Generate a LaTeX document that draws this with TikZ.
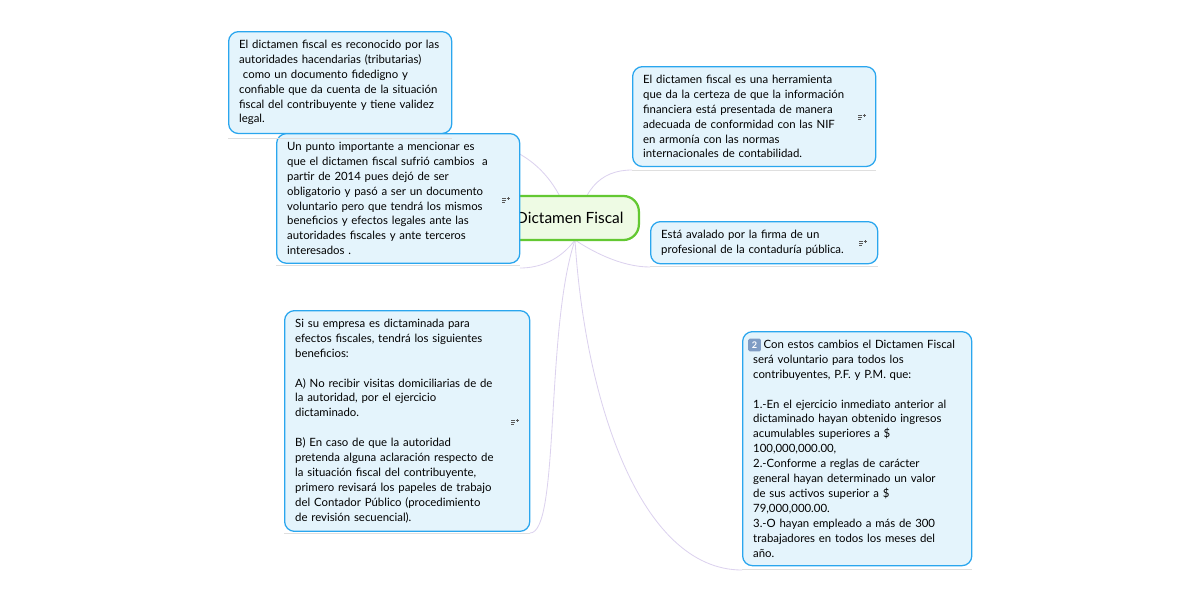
\documentclass[tikz,border=0pt]{standalone}
\usepackage{fontspec}
\setmainfont{Lato}
\usetikzlibrary{positioning}
\definecolor{notefill}{HTML}{E4F4FC}
\definecolor{notedraw}{HTML}{2AA6EE}
\definecolor{topicfill}{HTML}{EEFBE4}
\definecolor{topicdraw}{HTML}{63C832}
\definecolor{linkcol}{HTML}{DCD2EE}
\definecolor{badgecol}{HTML}{7F9CC4}
\newcommand{\noteicon}[1]{%
  \draw[gray!70!black, line width=0.6pt] ($(#1)+(-3,-2)$) -- +(4,0) ($(#1)+(-3,0)$) -- +(4,0) ($(#1)+(-3,2)$) -- +(3,0);
  \draw[gray!70!black, line width=0.5pt] ($(#1)+(3,-3)$) -- +(0,3) ($(#1)+(1.5,-1.5)$) -- +(3,0);}
\usetikzlibrary{calc}
\begin{document}
\begin{tikzpicture}
		[x=0.025cm, y=-0.025cm,
		note/.style ={rectangle, draw=notedraw, fill=notefill, line width=0.9pt, rounded corners=7pt, anchor=north west, align=left, inner xsep=7.5pt, inner ysep=6pt, font=\fontsize{8.1}{10.6}\selectfont},
		topic/.style ={rectangle, draw=topicdraw, fill=topicfill, line width=1.6pt, rounded corners=11pt, minimum height=1.1cm, minimum width=4.6cm, anchor=east, font=\fontsize{11}{12}\selectfont},
		line/.style ={draw=linkcol, line width=0.6pt},
		base/.style ={draw=gray!25, line width=0.5pt},
		]
		\useasboundingbox (0,0) rectangle (1200,600);

		% links
		\coordinate (C) at (575,240);
		\path[line] (C) .. controls (560,170) and (520,140) .. (452,137);
		\path[line] (C) .. controls (560,260) and (540,268) .. (520,268);
		\path[line] (C) .. controls (545,330) and (560,533) .. (530,533);
		\path[line] (C) .. controls (580,190) and (600,170) .. (632,170);
		\path[line] (C) .. controls (590,250) and (620,267) .. (650,267);
		\path[line] (C) .. controls (585,400) and (640,570) .. (742,570);

		\node[topic] (T) at (640,218) {\hspace*{1.15cm}Dictamen Fiscal};

		\node[note, text width=5.05cm] (N1) at (228,31) {El dictamen fiscal es reconocido por las\\autoridades hacendarias (tributarias)\\\ como un documento fidedigno y\\confiable que da cuenta de la situación\\fiscal del contribuyente y tiene validez\\legal.};
		\node[note, text width=5.55cm] (N2) at (276,133) {Un punto importante a mencionar es\\que el dictamen fiscal sufrió cambios\ \ a\\partir de 2014 pues dejó de ser\\obligatorio y pasó a ser un documento\\voluntario pero que tendrá los mismos\\beneficios y efectos legales ante las\\autoridades fiscales y ante terceros\\interesados .};
		\node[note, text width=5.6cm] (N3) at (284,310) {Si su empresa es dictaminada para\\efectos fiscales, tendrá los siguientes\\beneficios:\\[10.6pt]A) No recibir visitas domiciliarias de de\\la autoridad, por el ejercicio\\dictaminado.\\[10.6pt]B) En caso de que la autoridad\\pretenda alguna aclaración respecto de\\la situación fiscal del contribuyente,\\primero revisará los papeles de trabajo\\del Contador Público (procedimiento\\de revisión secuencial).};
		\node[note, text width=5.55cm] (N4) at (632,66) {El dictamen fiscal es una herramienta\\que da la certeza de que la información\\financiera está presentada de manera\\adecuada de conformidad con las NIF\\en armonía con las normas\\internacionales de contabilidad.};
		\node[note, text width=5.15cm] (N5) at (650,221) {Está avalado por la firma de un\\profesional de la contaduría pública.};
		\node[note, text width=5.2cm] (N6) at (742,331) {\phantom{2}\ Con estos cambios el Dictamen Fiscal\\será voluntario para todos los\\contribuyentes, P.F. y P.M. que:\\[10.6pt]1.-En el ejercicio inmediato anterior al\\dictaminado hayan obtenido ingresos\\acumulables superiores a \$\\100,000,000.00,\\2.-Conforme a reglas de carácter\\general hayan determinado un valor\\de sus activos superior a \$\\79,000,000.00.\\3.-O hayan empleado a más de 300\\trabajadores en todos los meses del\\año.};

		% badge
		\node[fill=badgecol, text=white, inner sep=0.6pt, minimum size=9pt, rounded corners=1pt, font=\fontsize{6.5}{7}\bfseries] (B) at (754.5,345) {2};

		% base lines
		\path[base] (N1.south west) ++(0,4) -- ++(224,0);
		\path[base] (N2.south west) ++(0,1) -- ++(244,0);
		\path[base] (N3.south west) ++(0,1) -- ++(246,0);
		\path[base] (N4.south west) ++(0,3) -- ++(244,0);
		\path[base] (N5.south west) ++(0,2) -- ++(228,0);
		\path[base] (N6.south west) ++(0,3) -- ++(230,0);

		\noteicon{861,117}
		\noteicon{862,243}
		\noteicon{505,200}
		\noteicon{514,422}
\end{tikzpicture}
\end{document}
